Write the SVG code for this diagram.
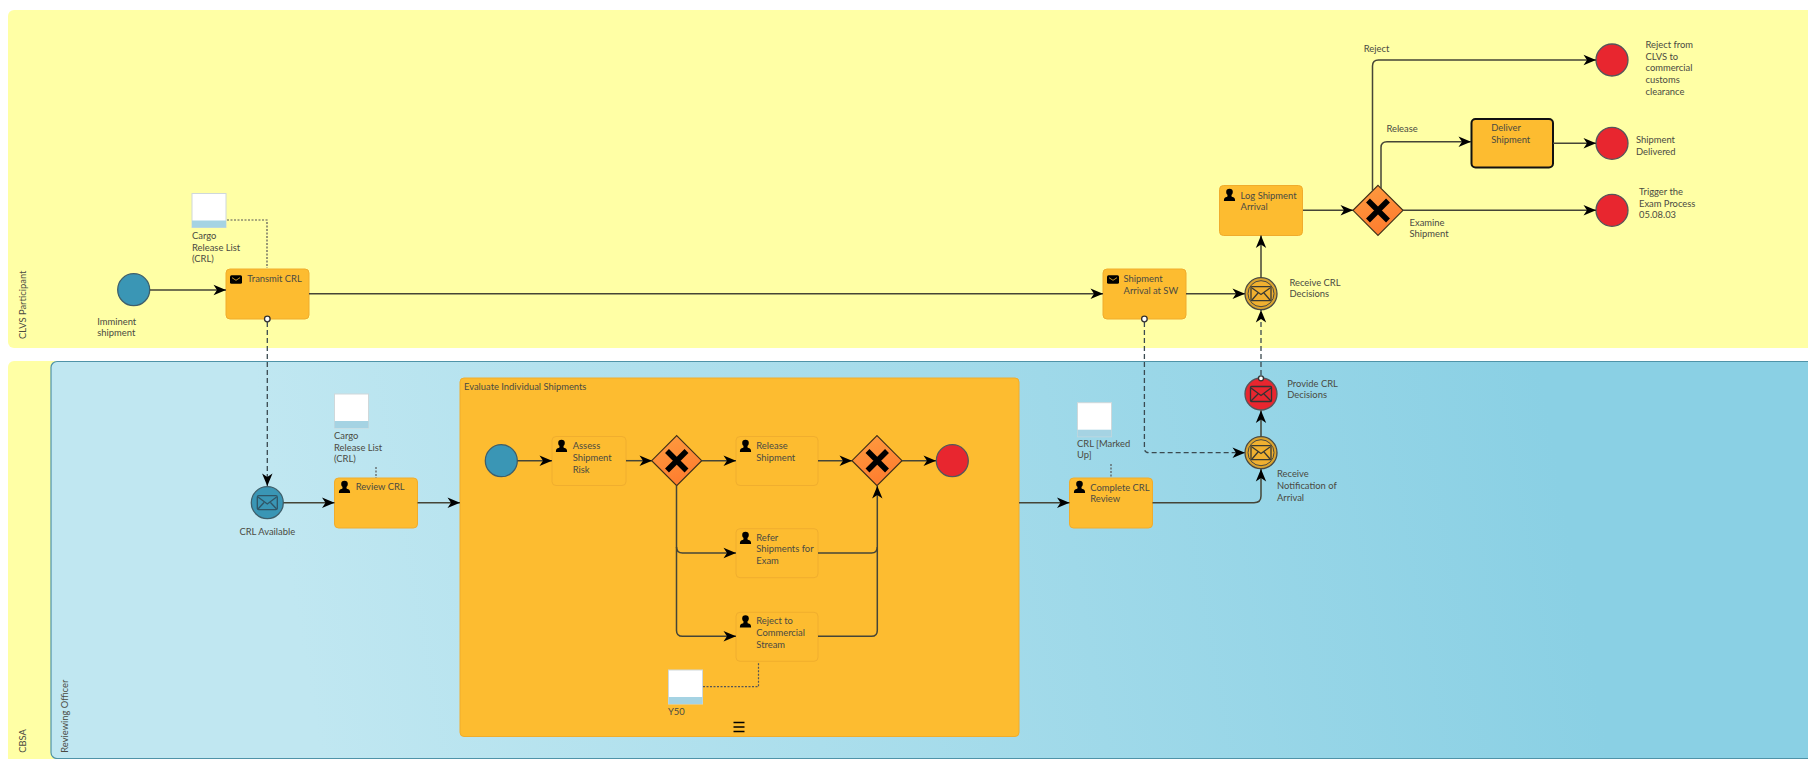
<svg xmlns="http://www.w3.org/2000/svg" xmlns:xlink="http://www.w3.org/1999/xlink" width="1808" height="759" viewBox="0 0 1808 759">
<style>
text{font-family:Lato,"Liberation Sans",Arial,sans-serif;font-size:9.4px;fill:#4a4a42}
.task{fill:#fdbc30;stroke:#f0ac2c;stroke-width:1}
.inner{fill:#fdbc30;stroke:#f0ae2e;stroke-width:1}
.flow{fill:none;stroke:#454537;stroke-width:1.5;marker-end:url(#arrow)}
.flowplain{fill:none;stroke:#454537;stroke-width:1.5}
.msg{fill:none;stroke:#3b4a50;stroke-width:1.3;stroke-dasharray:5 3;marker-end:url(#arrow)}
.assoc{fill:none;stroke:#555;stroke-width:1.2;stroke-dasharray:2 1.5}
.start{fill:#3a96b5;stroke:#3e5f6b;stroke-width:1.3}
.end{fill:#e8262f;stroke:#55555a;stroke-width:1.3}
.gate{fill:url(#gw);stroke:#403018;stroke-width:1.2}
.x{fill:none;stroke:#000;stroke-width:5.5;stroke-linecap:butt}
.dot{fill:#fff;stroke:#333;stroke-width:1.3}
.doc{fill:#fff;stroke:#cfd8da;stroke-width:1}
.band{fill:#a5d3e3}
.env{fill:none;stroke-width:1.3}
</style>
<defs>
<marker id="arrow" markerUnits="userSpaceOnUse" markerWidth="14" markerHeight="12" viewBox="0 0 14 12" refX="13" refY="6" orient="auto">
<path d="M0.5,0.8 L13,6 L0.5,11.2 L4,6 Z" fill="#000"/>
</marker>
<linearGradient id="lane" gradientUnits="userSpaceOnUse" x1="300" y1="640" x2="1550" y2="420">
<stop offset="0" stop-color="#c0e7f1"/><stop offset="1" stop-color="#8ad0e4"/>
</linearGradient>
<linearGradient id="gw" x1="0.2" y1="0" x2="0.6" y2="1">
<stop offset="0" stop-color="#fe9b3f"/><stop offset="1" stop-color="#fe7b2e"/>
</linearGradient>
<g id="user"><circle cx="0" cy="-3" r="3.3" fill="#000"/><path d="M-1.800,-1 H1.800 L2.200,1.800 C5,2.200 5.600,3.500 5.600,6 H-5.600 C-5.600,3.500 -5,2.200 -2.200,1.800 Z" fill="#000"/></g>
<g id="mail"><rect x="-6" y="-4.200" width="12" height="8.400" rx="1.500" fill="#000"/><path d="M-4,-1.800 L0,0.800 L4,-1.800" fill="none" stroke="#fdbc30" stroke-width="0.800"/></g>
<g id="doc"><rect class="doc" x="0" y="0" width="34" height="34"/><rect class="band" x="0" y="27" width="34" height="7"/></g>
</defs>

<g id="pools">
<rect id="pool-clvs" x="8" y="10" width="1830" height="338" rx="6" fill="#ffffa5"/>
<rect id="pool-cbsa" x="8" y="361" width="1830" height="420" rx="6" fill="#ffffa5"/>
<rect id="lane-reviewer" x="51" y="361.500" width="1790" height="397" rx="6" fill="url(#lane)" stroke="#4f93a8" stroke-width="1.200"/>
<text transform="translate(26,339) rotate(-90)">CLVS Participant</text>
<text transform="translate(25.700,752.700) rotate(-90)">CBSA</text>
<text transform="translate(68.300,752.700) rotate(-90)">Reviewing Officer</text>
</g>

<g id="subprocess-evaluate">
<rect class="task" x="460" y="378" width="559" height="358.500" rx="4"/>
<text x="464" y="390">Evaluate Individual Shipments</text>
<path d="M733.500,722.500h11M733.500,727h11M733.500,731.500h11" stroke="#000" stroke-width="1.700" fill="none"/>
</g>

<g id="start-imminent"><circle class="start" cx="133.700" cy="289.700" r="16"/><text x="97.300" y="324.700">Imminent</text><text x="97.300" y="336.300">shipment</text></g>
<g id="doc-crl-1"><use xlink:href="#doc" href="#doc" x="192" y="193.500"/><text x="192" y="239">Cargo</text><text x="192" y="250.700">Release List</text><text x="192" y="262.400">(CRL)</text></g>
<g id="task-transmit"><rect class="task" x="226" y="269" width="83" height="50" rx="4"/><use href="#mail" xlink:href="#mail" x="236" y="279.500"/><text x="247.300" y="282.300">Transmit CRL</text></g>

<g id="event-crl-available">
<circle class="start" cx="267.300" cy="502.700" r="16" stroke-width="1.600"/>
<rect class="env" stroke="#2f5566" x="257.300" y="495.700" width="20" height="14" rx="1.500"/><path class="env" stroke="#2f5566" d="M258,497 L267.300,504 L276.600,497 M258,509 L264,502.500 M276.600,509 L270.500,502.500"/>
<text x="267.300" y="535" text-anchor="middle">CRL Available</text>
</g>
<g id="doc-crl-2"><use xlink:href="#doc" href="#doc" x="334.500" y="394"/><text x="334" y="439">Cargo</text><text x="334" y="450.700">Release List</text><text x="334" y="462.400">(CRL)</text></g>
<g id="task-review"><rect class="task" x="334.500" y="478" width="83" height="50" rx="4"/><use href="#user" xlink:href="#user" x="344.500" y="487"/><text x="355.700" y="490.300">Review CRL</text></g>

<g id="sub-start"><circle class="start" cx="501.300" cy="460.700" r="16"/></g>
<g id="task-assess"><rect class="inner" x="552" y="436.500" width="74" height="49" rx="4"/><use href="#user" xlink:href="#user" x="561.500" y="446"/><text x="572.700" y="449.300">Assess</text><text x="572.700" y="461">Shipment</text><text x="572.700" y="472.700">Risk</text></g>
<g id="gateway-split"><path class="gate" d="M676.700,435.700 L701.700,460.700 L676.700,485.700 L651.700,460.700 Z"/><path class="x" d="M667,451 L686.500,470.500 M686.500,451 L667,470.500"/></g>
<g id="task-release"><rect class="inner" x="736" y="436.500" width="82" height="49" rx="4"/><use href="#user" xlink:href="#user" x="745.500" y="446"/><text x="756.300" y="449.300">Release</text><text x="756.300" y="461">Shipment</text></g>
<g id="task-refer"><rect class="inner" x="736" y="528.700" width="82" height="49" rx="4"/><use href="#user" xlink:href="#user" x="745.500" y="538"/><text x="756.300" y="540.700">Refer</text><text x="756.300" y="552.400">Shipments for</text><text x="756.300" y="564.100">Exam</text></g>
<g id="task-reject"><rect class="inner" x="736" y="612.300" width="82" height="49" rx="4"/><use href="#user" xlink:href="#user" x="745.500" y="621.500"/><text x="756.300" y="624.300">Reject to</text><text x="756.300" y="636">Commercial</text><text x="756.300" y="647.700">Stream</text></g>
<g id="gateway-join"><path class="gate" d="M877,435.700 L902,460.700 L877,485.700 L852,460.700 Z"/><path class="x" d="M867.500,451 L887,470.500 M887,451 L867.500,470.500"/></g>
<g id="sub-end"><circle class="end" cx="952.300" cy="460.700" r="16"/></g>
<g id="doc-y50"><use xlink:href="#doc" href="#doc" x="668.500" y="670"/><text x="668" y="715">Y50</text></g>

<g id="doc-crl-marked"><use xlink:href="#doc" href="#doc" x="1077.500" y="402.700"/><text x="1077" y="446.700">CRL [Marked</text><text x="1077" y="458.400">Up]</text></g>
<g id="task-complete"><rect class="task" x="1069.500" y="478" width="83" height="50" rx="4"/><use href="#user" xlink:href="#user" x="1079.500" y="487"/><text x="1090.300" y="490.700">Complete CRL</text><text x="1090.300" y="502.400">Review</text></g>
<g id="event-receive-notification">
<circle cx="1261" cy="452.700" r="16" fill="#dba42e" stroke="#4a4a42" stroke-width="1.300"/><circle cx="1261" cy="452.700" r="13" fill="#f0b030" stroke="#4a4a42" stroke-width="1"/>
<rect class="env" stroke="#3a3a32" x="1251" y="445.700" width="20" height="14" rx="1"/><path class="env" stroke="#3a3a32" d="M1252,447 L1261,453.500 L1270,447 M1252,459 L1258,452 M1270,459 L1264,452"/>
<text x="1277" y="477.300">Receive</text><text x="1277" y="489">Notification of</text><text x="1277" y="500.700">Arrival</text>
</g>
<g id="event-provide-decisions">
<circle cx="1261" cy="394" r="16" fill="#e8262f" stroke="#55555a" stroke-width="1.300"/>
<rect class="env" stroke="#333" x="1250.500" y="386.500" width="21" height="15" rx="1"/><path class="env" stroke="#333" d="M1251,388 L1261,395.500 L1271,388 M1251,401 L1258,394 M1271,401 L1264,394"/>
<text x="1287.300" y="387">Provide CRL</text><text x="1287.300" y="398.400">Decisions</text>
</g>
<g id="task-arrival"><rect class="task" x="1103" y="269" width="83" height="50" rx="4"/><use href="#mail" xlink:href="#mail" x="1113" y="279.500"/><text x="1123.600" y="282">Shipment</text><text x="1123.600" y="293.700">Arrival at SW</text></g>
<g id="event-receive-decisions">
<circle cx="1261" cy="293.700" r="16" fill="#dba42e" stroke="#4a4a42" stroke-width="1.300"/><circle cx="1261" cy="293.700" r="13" fill="#f0b030" stroke="#4a4a42" stroke-width="1"/>
<rect class="env" stroke="#3a3a32" x="1251" y="286.700" width="20" height="14" rx="1"/><path class="env" stroke="#3a3a32" d="M1252,288 L1261,294.500 L1270,288 M1252,300 L1258,293 M1270,300 L1264,293"/>
<text x="1289.400" y="285.700">Receive CRL</text><text x="1289.400" y="297.400">Decisions</text>
</g>
<g id="task-log"><rect class="task" x="1219.500" y="185.500" width="83" height="50" rx="4"/><use href="#user" xlink:href="#user" x="1229.500" y="195"/><text x="1240.600" y="198.700">Log Shipment</text><text x="1240.600" y="210.400">Arrival</text></g>
<g id="gateway-decision"><path class="gate" d="M1378,185.300 L1403,210.300 L1378,235.300 L1353,210.300 Z"/><path class="x" d="M1368,200.500 L1388,220.500 M1388,200.500 L1368,220.500"/>
<text x="1363.700" y="51.700">Reject</text><text x="1386.400" y="131.700">Release</text><text x="1409.600" y="225.700">Examine</text><text x="1409.600" y="237.400">Shipment</text></g>
<g id="task-deliver"><rect x="1471.500" y="119" width="81.500" height="48.500" rx="4" fill="#fdbc30" stroke="#111" stroke-width="2"/><text x="1491.300" y="131.300">Deliver</text><text x="1491.300" y="143.300">Shipment</text></g>
<g id="end-reject"><circle class="end" cx="1612" cy="60" r="16"/><text x="1645.500" y="48">Reject from</text><text x="1645.500" y="59.700">CLVS to</text><text x="1645.500" y="71.400">commercial</text><text x="1645.500" y="83.100">customs</text><text x="1645.500" y="94.800">clearance</text></g>
<g id="end-delivered"><circle class="end" cx="1612" cy="143.300" r="16"/><text x="1636" y="143.300">Shipment</text><text x="1636" y="155">Delivered</text></g>
<g id="end-exam"><circle class="end" cx="1612" cy="210.300" r="16"/><text x="1639" y="195">Trigger the</text><text x="1639" y="206.700">Exam Process</text><text x="1639" y="218.400">05.08.03</text></g>

<g id="connectors">
<path class="flow" d="M150,290 H226"/>
<path class="flow" d="M309,293.700 H1103"/>
<path class="flow" d="M1186,293.700 H1245"/>
<path class="flow" d="M1261,278 V235.500"/>
<path class="flow" d="M1303,210.300 H1353"/>
<path class="flow" d="M1372.500,190.500 V66 Q1372.500,60 1378.500,60 H1596"/>
<path class="flow" d="M1381,188 V147.500 Q1381,141.700 1387,141.700 H1471"/>
<path class="flow" d="M1553,143.300 H1596"/>
<path class="flow" d="M1403,210.300 H1596"/>
<path class="flow" d="M283.500,502.700 H334.500"/>
<path class="flow" d="M417.500,502.700 H460"/>
<path class="flow" d="M1019,502.700 H1069.500"/>
<path class="flow" d="M1152.500,502.700 H1254 Q1261,502.700 1261,496 V469"/>
<path class="flow" d="M1261,436.500 V410.500"/>
<path class="flow" d="M517.500,460.700 H552"/>
<path class="flow" d="M626,460.700 H652"/>
<path class="flow" d="M701.500,460.700 H736"/>
<path class="flow" d="M818,460.700 H852"/>
<path class="flow" d="M902,460.700 H936"/>
<path class="flow" d="M676.500,485.500 V547 Q676.500,553 682.500,553 H736"/>
<path class="flow" d="M676.500,547 V630.500 Q676.500,636.300 682.500,636.300 H736"/>
<path class="flowplain" d="M818,553 H871.500 Q877.300,553 877.300,547"/>
<path class="flow" d="M818,636.300 H871.500 Q877.300,636.300 877.300,630.500 V486"/>
<path class="msg" d="M267.300,322 V486"/>
<path class="msg" d="M1144.400,322 V448 Q1144.400,452.700 1149,452.700 H1245"/>
<path class="msg" d="M1261,375 V310"/>
<path class="assoc" d="M227,220 H267 V268"/>
<path class="assoc" d="M376,467 V478"/>
<path class="assoc" d="M1111,464 V478"/>
<path class="assoc" d="M703,686.700 H758.500 V663"/>
<circle class="dot" cx="267.300" cy="319" r="2.800"/>
<circle class="dot" cx="1144.400" cy="319" r="2.800"/>
<circle class="dot" cx="1261" cy="378.300" r="2.500"/>
</g>
</svg>
